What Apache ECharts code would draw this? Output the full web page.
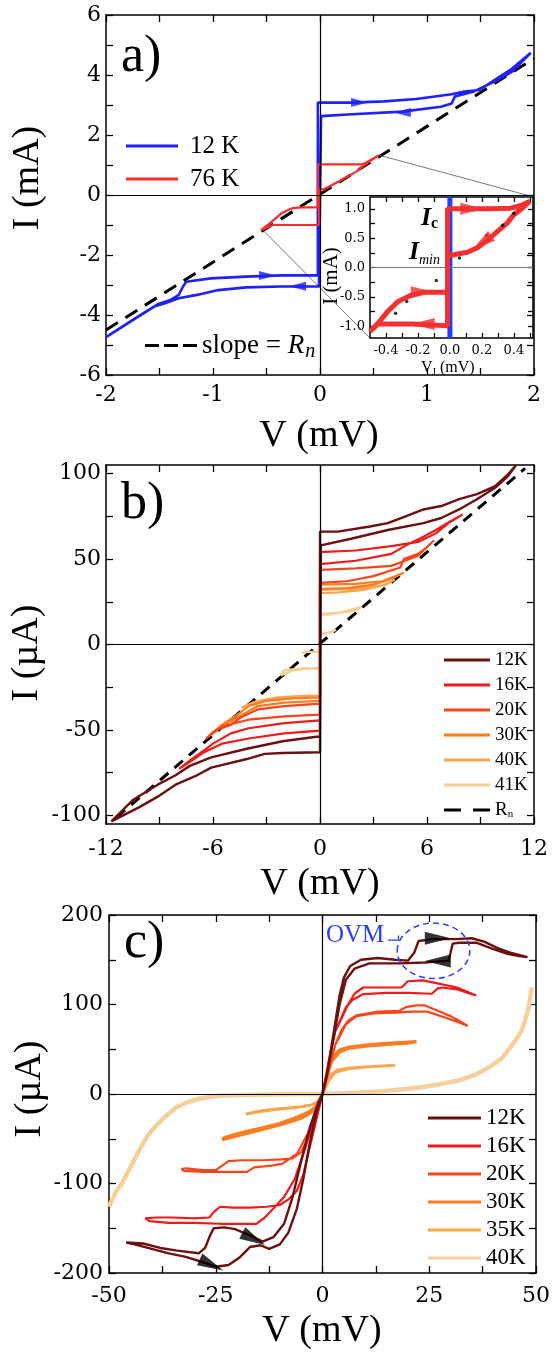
<!DOCTYPE html>
<html><head><meta charset="utf-8">
<script src="https://cdn.jsdelivr.net/npm/echarts@6.0.0/dist/echarts.min.js"></script>
<style>html,body{margin:0;padding:0;background:#fff}#c{width:553px;height:1353px}</style>
</head><body><div id="c"></div>
<script>
// ---------- Panel a (V in mV, I in mA) ----------
const a12K = [[-0.02,-2.67],[-0.02,3.08],[0.3,3.08],[0.6,3.12],[0.9,3.2],[1.23,3.36],[1.35,3.45],[1.49,3.5],[1.63,3.83],[1.79,4.2],[1.97,4.74],
 [1.79,4.1],[1.63,3.78],[1.43,3.44],[1.26,3.28],[1.23,3.05],[1.13,2.94],[0.77,2.78],[0.3,2.69],[0.01,2.63],
 [-0.01,-3.05],[-0.36,-3.05],[-0.69,-3.08],[-0.95,-3.17],[-1.15,-3.33],[-1.32,-3.44],[-1.45,-3.61],[-1.55,-3.72],[-2,-4.74],
 [-1.68,-4.0],[-1.51,-3.63],[-1.4,-3.5],[-1.32,-3.33],[-1.28,-3.05],[-1.25,-2.89],[-1.02,-2.78],[-0.69,-2.72],[-0.36,-2.68],[-0.02,-2.67]];
const a76K = [[-0.02,-0.41],[-0.02,1.02],[0.2,1.02],[0.4,1.02],[0.55,1.33],
 [0.44,1.06],[0.34,0.78],[0.17,0.44],[0.04,0.19],[-0.01,0.19],
 [-0.01,-1.0],[-0.2,-1.0],[-0.44,-1.0],[-0.55,-1.17],
 [-0.45,-0.89],[-0.36,-0.61],[-0.26,-0.44],[-0.16,-0.41],[-0.02,-0.41]];
const aRn = [[-2,-4.5],[2,4.55]];
const aArrows = [[0.37,3.08],[0.77,2.75],[-0.49,-2.68],[-0.21,-3.04]];
const aArrowDir = [0,180,0,180];
const aZoomLinks = [[[0.55,1.33],[1.98,-0.05]],[[-0.54,-1.15],[0.467,-4.77]]];
const aXLabels = [-2,-1,0,1,2], aXTicks = [-2,-1.5,-1,-0.5,0,0.5,1,1.5,2];
const aYLabels = [-6,-4,-2,0,2,4,6], aYTicks = [-6,-5,-4,-3,-2,-1,0,1,2,3,4,5,6];
// inset (V_J in mV, I in mA)
const inBlue = [[0,-1.2],[0,1.2]];
const inRed = [[-0.015,-0.42],[-0.015,1.0],[0.1,1.0],[0.25,1.0],[0.38,1.01],[0.45,1.06],[0.5,1.13],
 [0.45,1.0],[0.4,0.9],[0.36,0.76],[0.3,0.62],[0.24,0.48],[0.175,0.34],[0.11,0.26],[0.03,0.22],[0,0.2],
 [-0.015,0.2],[-0.015,-0.99],[-0.24,-0.96],[-0.45,-0.96],[-0.5,-1.09],
 [-0.45,-0.95],[-0.39,-0.75],[-0.325,-0.58],[-0.24,-0.47],[-0.16,-0.42],[-0.015,-0.42]];
const inDots = [[0.06,0.16],[0.23,0.55],[0.33,0.72],[0.4,0.92],[-0.085,-0.22],[-0.27,-0.58],[-0.34,-0.78]];
const inArrows = [[0.14,1.0],[0.2,0.42],[-0.17,-0.42],[-0.17,-0.96]];
const inArrowDir = [0,216,0,180];
const inXLabels = [-0.4,-0.2,0,0.2,0.4], inXTicks = [-0.4,-0.3,-0.2,-0.1,0,0.1,0.2,0.3,0.4,0.5];
const inYLabels = [-1,-0.5,0,0.5,1], inYTicks = [-1,-0.75,-0.5,-0.25,0,0.25,0.5,0.75,1];

// ---------- Panel b (V in mV, I in uA) ----------
const b12K = [[0,-54],[0,66],[1,66],[2.8,69],[3.8,71],[4.8,75],[5.8,79],[6.8,81],[7.8,85],[8.8,88],[9.8,92.5],[10.5,99],[11,105],
 [10.5,98],[9.8,91.5],[8.8,85],[7.8,79],[6.8,74],[5.8,71],[3.8,67],[1.8,62],[0.05,58],
 [0,-63],[-2.1,-63.5],[-3.1,-64],[-4.1,-67],[-6.1,-72],[-6.9,-76.5],[-8.1,-82],[-9.1,-89],[-10.1,-95],[-11.7,-103.5],
 [-10.5,-91],[-9.1,-82],[-8.1,-76.5],[-7.3,-71],[-6.1,-66],[-4.1,-61],[-2.1,-56.6],[-0.2,-54],[0,-54]];
const b16K = [[0,-44.4],[0,54],[2,55],[4,57.5],[5.5,60],[6.5,65],[7.2,71],[8,76],
 [7.3,72],[6.5,67],[5.8,63],[5,59],[4,53],[2,49],[0,47],
 [0,-50.4],[-2,-52],[-4,-55],[-5.5,-58],[-6.5,-63],[-7.2,-68],[-7.9,-72.8],
 [-7.2,-67],[-6.5,-62],[-6,-58],[-5,-52],[-4,-49],[-2,-46],[0,-44.4]];
const b20K = [[0,-34.6],[0,43.6],[2,44.5],[4,46],[4.5,48],[5.5,52],[6,57],[6.4,61],
 [6,57],[5.5,53],[4.7,50],[4.5,45],[3,40],[1.5,37],[0,36],
 [0,-41],[-2,-42],[-4,-44],[-5.5,-48],[-6.4,-55],
 [-5.8,-50],[-5,-47],[-4.5,-43],[-3.5,-38],[-2,-36],[0,-34.6]];
const b30K = [[0,-31],[0,35],[2,35.5],[3.5,37],[4.7,42],
 [4,38.5],[3,35],[1.5,33],[0,32.5],
 [0,-33],[-2,-34],[-3.5,-36],[-4.5,-42],[-5.5,-48],[-6.2,-53],
 [-5.5,-47],[-4.5,-40],[-4,-36],[-3,-33],[-1.5,-31.5],[0,-31]];
const b40K = [[0,-29.7],[0,32],[2,32.5],[3.5,34.5],[4.2,38],
 [3.7,35],[2.5,32],[1,30.5],[0,30],
 [0,-30],[-2,-31],[-3.5,-33],[-4.4,-37],
 [-3.8,-34],[-2.5,-31],[-1,-30],[0,-29.7]];
const b41K = [[0,-13.5],[0,18],[1,18.5],[2,20],[2.3,22],[1.5,19.5],[0.5,17.5],[0,17.5],
 [0,6],[0.5,7],[0.9,8.6],[0.5,7],[0,6],
 [0,-4.3],[-0.8,-4.3],[-1,-5],[-0.8,-4.3],[0,-4.3],
 [0,-14],[-1,-14],[-2,-15],[-2.2,-18],[-1.5,-15],[0,-13.5]];
const bRn = [[-11.4,-101],[11.5,103]];
const bXLabels = [-12,-6,0,6,12], bXTicks = [-12,-9,-6,-3,0,3,6,9,12];
const bYLabels = [-100,-50,0,50,100], bYTicks = [-100,-75,-50,-25,0,25,50,75,100];

// ---------- Panel c (V in mV, I in uA) ----------
const c12K = [[-46,-166],[-42,-167],[-38,-172],[-34,-175],[-29,-178],[-27.5,-172],[-26.5,-160],[-25.5,-150],[-23,-149],[-20.5,-151],[-17,-158],[-14,-165],[-11.5,-160],[-9,-145],[-7,-115],[-5,-75],[-3,-38],[-1,-10],[0,0],
 [1,20],[2,50],[3,80],[4,110],[5,130],[6.5,143],[9,150],[13,152],[17,150],[20,149],[21.5,158],[22.5,171],[26,173],[31,173],[35,174],[38,170],[41,163],[44,158],[48,153],
 [46,154],[43,157],[40,162],[36,169],[32,169],[30.5,168],[30,158],[29.5,149],[24,147],[18,146],[11,146],[7.5,140],[5.5,128],[4,100],[2.5,60],[1,20],[0,0],
 [-1.5,-22],[-3,-55],[-4.5,-95],[-6,-128],[-8,-155],[-10,-168],[-12.5,-173],[-14.5,-169],[-17,-171],[-19.5,-183],[-22,-191],[-25,-193],[-28,-188],[-32,-182],[-36,-178],[-40,-173],[-44,-168],[-46,-166]];
const c16K = [[0,0],[1,25],[2,50],[3,70],[4.5,85],[6,100],[7.5,112],[9.5,119],[14,119],[18.5,119],[20,126],[23.5,127],[27.5,123],[31.5,119],[36,110],
 [34,113],[31.5,117],[28,119],[27,118],[25.6,112],[20,113],[15,113],[9.5,111.5],[7,105],[5.5,97],[3,70],[1.5,38],[0,0],
 [-1.5,-30],[-3,-60],[-4.5,-90],[-6,-108],[-8,-118],[-10,-124],[-13,-126],[-17,-127],[-21,-127],[-24,-126],[-25.5,-132],[-26.5,-138],[-30,-139],[-35,-138],[-39,-138],[-41.5,-139],
 [-40.5,-142],[-36,-144],[-30,-144],[-24,-145],[-19,-145],[-15.5,-145],[-13.5,-138],[-11.5,-128],[-9,-115],[-6.5,-95],[-4,-60],[-2,-28],[0,0]];
const c20K = [[0,0],[1.5,30],[3,55],[4.5,72],[6,82],[8,88],[13,92],[18,93],[19.5,97],[22,99],[24,99],[26,95],[28,91],[30,87],[32,82],[34,76],
 [32,80],[29,85],[26.5,89],[24.5,92],[21,92],[17,91],[12,90],[8,87],[5.5,78],[3,55],[1.5,28],[0,0],
 [-1.5,-25],[-3,-45],[-5,-65],[-7,-72],[-9.5,-73],[-14,-74],[-19,-74],[-22,-75],[-23.5,-80],[-25,-85],[-28,-85],[-32,-83],[-33,-84],[-32.5,-86],[-28,-87],[-22.7,-87],[-17.7,-87],[-16,-82],[-12,-80],[-9.5,-78],[-6,-67],[-3,-40],[-1.5,-20],[0,0]];
const c30K = [[0,0],[1,20],[2.5,42],[4,49],[6,52],[10,54.5],[15,56.5],[20,58],[22,58.5],
 [20,57],[15,55.5],[10,53.5],[6,51],[4,47],[2,36],[0,0],
 [-1.5,-14],[-3,-20],[-6,-26],[-10,-33],[-14,-38],[-18,-42],[-21,-46],[-23,-49],[-23.5,-51],
 [-21,-48],[-17,-43],[-13,-38],[-9,-33],[-5,-27],[-2.5,-20],[-1,-10],[0,0]];
const c35K = [[0,0],[1,12],[2,22],[3.5,27],[6,29],[10,30.5],[14,31.5],[17,32],
 [14,31],[10,30],[6,28],[3,24],[1.5,15],[0,0],
 [-1,-8],[-2.5,-12],[-5,-14],[-8,-15.5],[-12,-17],[-15,-19],[-18,-22.5],
 [-15,-20],[-11,-17.5],[-7,-15.5],[-3,-13],[-1,-9],[0,0]];
const c40K = [[-50,-126],[-48.5,-110],[-47,-100],[-45,-82],[-42.6,-60],[-41,-47],[-39.3,-37],[-37,-26],[-34.3,-15],[-32,-10],[-29.3,-5.6],[-26,-3],[-24,-2],[-18,-1],[-10,-0.3],[0,0],[8,1.5],[14,3],[19.4,5.6],[24,8],[27.6,11],[31.8,15],[36,22],[38,27],[40,33],[42,40],[44,52],[45.5,62],[46.6,70],[47.5,83],[48.3,97],[49,119]];
const cArrows = [[27,174],[27,148.7],[-16.1,-162],[-26,-191]];
const cArrowDir = [0,180,-28,-25];
const ovmEllipse = [[26,160,8.5,31]];
const ovmBracket = [[15.3,172],[17.8,172],[17.8,177]];
const cXLabels = [-50,-25,0,25,50], cXTicks = [-50,-37.5,-25,-12.5,0,12.5,25,37.5,50];
const cYLabels = [-200,-100,0,100,200], cYTicks = [-200,-150,-100,-50,0,50,100,150,200];

// ---------- chart ----------
const F = 'Liberation Serif';
const FT = 'DejaVu Serif';
const chart = echarts.init(document.getElementById('c'), null, {renderer:'canvas'});
const grids = [
  {left:106, top:15, width:428, height:360},
  {left:370, top:197, width:163, height:141, show:true, backgroundColor:'#fff', borderWidth:0},
  {left:106, top:465, width:428, height:359},
  {left:109, top:915, width:428, height:358}
];
const xAxes = [], yAxes = [];
function axes(gi, o) {
  const line = {show:true, onZero:false, lineStyle:{color:'#000', width:1.5}};
  const tick = (vals) => ({show:true, inside:true, length:o.tl, customValues:vals, lineStyle:{color:'#000', width:1.3}});
  xAxes.push({type:'value', gridIndex:gi, min:o.xmin, max:o.xmax, position:'bottom', axisLine:line, axisTick:tick(o.xt),
    splitLine:{show:false},
    axisLabel:{show:true, customValues:o.xl, fontFamily:FT, fontSize:o.fs, color:'#000', margin:o.xm, formatter:o.xf}});
  xAxes.push({type:'value', gridIndex:gi, min:o.xmin, max:o.xmax, position:'top', axisLine:line, axisTick:tick(o.xt),
    splitLine:{show:false}, axisLabel:{show:false}});
  yAxes.push({type:'value', gridIndex:gi, min:o.ymin, max:o.ymax, position:'left', axisLine:line, axisTick:tick(o.yt),
    splitLine:{show:false},
    axisLabel:{show:true, customValues:o.yl, fontFamily:FT, fontSize:o.fs, color:'#000', margin:o.ym, formatter:o.yf}});
  yAxes.push({type:'value', gridIndex:gi, min:o.ymin, max:o.ymax, position:'right', axisLine:line, axisTick:tick(o.yt),
    splitLine:{show:false}, axisLabel:{show:false}});
}
const f1 = v => (+v).toFixed(1);
axes(0, {xmin:-2, xmax:2, xl:aXLabels, xt:aXTicks, ymin:-6, ymax:6, yl:aYLabels, yt:aYTicks, fs:22, xm:9, ym:5, tl:7});
axes(1, {xmin:-0.5, xmax:0.52, xl:inXLabels, xt:inXTicks, ymin:-1.2, ymax:1.2, yl:inYLabels, yt:inYTicks, fs:13, xm:6, ym:5, tl:5, xf:f1, yf:f1});
axes(2, {xmin:-12, xmax:12, xl:bXLabels, xt:bXTicks, ymin:-105, ymax:105, yl:bYLabels, yt:bYTicks, fs:22, xm:14, ym:5, tl:7});
axes(3, {xmin:-50, xmax:50, xl:cXLabels, xt:cXTicks, ymin:-200, ymax:200, yl:cYLabels, yt:cYTicks, fs:22, xm:12, ym:6, tl:7});

const zeroLines = (color, w, both) => ({silent:true, symbol:'none', label:{show:false}, animation:false,
  lineStyle:{color:color, width:w, type:'solid'}, data: both ? [{xAxis:0},{yAxis:0}] : [{yAxis:0}]});

function ln(name, gi, data, color, width, extra) {
  return Object.assign({name:name, type:'line', xAxisIndex:gi*2, yAxisIndex:gi*2, data:data, symbol:'none', showSymbol:false,
    lineStyle:{color:color, width:width}, itemStyle:{color:color}, z:3, animation:false, silent:true}, extra||{});
}
const ARROW = 'path://M0,0L24,6L0,12Z';
function arrows(gi, pts, dirs, color, size) {
  return {type:'scatter', xAxisIndex:gi*2, yAxisIndex:gi*2, symbol:ARROW, symbolSize:size, z:6, silent:true, animation:false,
    itemStyle:{color:color}, data: pts.map((p,i)=>({value:p, symbolRotate:dirs[i]}))};
}

const colB = {'12K':'#6b1111','16K':'#ee1b1b','20K':'#f7461b','30K':'#fb7d1f','40K':'#fca552','41K':'#f8cd93'};
const colC = {'12K':'#6b1111','16K':'#ee1b1b','20K':'#f7461b','30K':'#fb7d1f','35K':'#fba54e','40K':'#f5d09c'};

const series = [
  // panel a
  ln('zeroA', 0, [], '#000', 1, {markLine: zeroLines('#000', 1.2, true)}),
  ln('aRn', 0, aRn, '#000', 3, {lineStyle:{color:'#000', width:3, type:[14,9]}}),
  ln('aLink1', 0, aZoomLinks[0], '#555', 0.8),
  ln('aLink2', 0, aZoomLinks[1], '#555', 0.8),
  ln('a12', 0, a12K, '#1f1fff', 2.6),
  ln('a76', 0, a76K, '#ff2a2a', 2.2),
  arrows(0, aArrows, aArrowDir, '#1f1fff', [17,9]),
  // inset
  ln('zeroIn', 1, [], '#777', 1, {markLine: zeroLines('#777', 1, false), z:4}),
  ln('inBlue', 1, inBlue, '#1f3cff', 5, {z:4}),
  ln('inRed', 1, inRed, '#f43030', 5, {z:5}),
  {type:'scatter', xAxisIndex:2, yAxisIndex:2, data:inDots, symbolSize:3.5, itemStyle:{color:'#000'}, z:6, silent:true, animation:false},
  arrows(1, inArrows, inArrowDir, '#f43030', [24,12]),
  // panel b
  ln('zeroB', 2, [], '#000', 1, {markLine: zeroLines('#000', 1.2, true)}),
  ln('bRn', 2, bRn, '#000', 3, {lineStyle:{color:'#000', width:3, type:[11,8]}, z:2}),
  ln('b41K', 2, b41K, colB['41K'], 2.4),
  ln('b40K', 2, b40K, colB['40K'], 2.2),
  ln('b30K', 2, b30K, colB['30K'], 2.2),
  ln('b20K', 2, b20K, colB['20K'], 2.2),
  ln('b16K', 2, b16K, colB['16K'], 2.2),
  ln('b12K', 2, b12K, colB['12K'], 2.4),
  // panel c
  ln('zeroC', 3, [], '#000', 1, {markLine: zeroLines('#000', 1.2, true)}),
  ln('c40K', 3, c40K, colC['40K'], 4.5),
  ln('c35K', 3, c35K, colC['35K'], 2.6),
  ln('c30K', 3, c30K, colC['30K'], 3.4),
  ln('c20K', 3, c20K, colC['20K'], 2.2),
  ln('c16K', 3, c16K, colC['16K'], 2.2),
  ln('c12K', 3, c12K, colC['12K'], 2.4),
  arrows(3, cArrows, cArrowDir, '#000', [26,13]),
  ln('ovmBr', 3, ovmBracket, '#2b3ff0', 1.3),
  {type:'custom', xAxisIndex:6, yAxisIndex:6, data:ovmEllipse, z:7, silent:true, animation:false, clip:false,
   renderItem:(p, api) => {
     const c = api.coord([api.value(0), api.value(1)]);
     const e = api.coord([api.value(0)+api.value(2), api.value(1)+api.value(3)]);
     return {type:'ellipse', shape:{cx:c[0], cy:c[1], rx:Math.abs(e[0]-c[0]), ry:Math.abs(e[1]-c[1])},
       style:{fill:'none', stroke:'#2b3ff0', lineWidth:1.5, lineDash:[6,4]}};
   }}
];

const DASH_A = 'path://M0,0h14v3h-14zM19,0h14v3h-14zM38,0h14v3h-14z';
const DASH_B = 'path://M0,0h17v3h-17zM29,0h17v3h-17z';
const legendBase = {orient:'vertical', selectedMode:false, icon:'rect'};
const legends = [
  Object.assign({}, legendBase, {data:['a12','a76'], left:121, top:127, itemWidth:52, itemHeight:3, itemGap:5,
    formatter: n => n === 'a12' ? '12 K' : '76 K',
    textStyle:{fontFamily:F, fontSize:25, color:'#000', lineHeight:28, padding:[0,0,0,7]}}),
  Object.assign({}, legendBase, {data:[{name:'aRn', icon:DASH_A}], left:140, top:327, itemWidth:52, itemHeight:3,
    formatter: () => '{t|slope = }{r|R}{s|n}',
    textStyle:{fontFamily:F, fontSize:27, color:'#000',
      rich:{t:{fontFamily:F, fontSize:27, color:'#000'}, r:{fontFamily:F, fontSize:27, fontStyle:'italic', color:'#000'},
            s:{fontFamily:F, fontSize:20, fontStyle:'italic', color:'#000', padding:[12,0,0,1], verticalAlign:'bottom'}}}}),
  Object.assign({}, legendBase, {data:['b12K','b16K','b20K','b30K','b40K','b41K',{name:'bRn', icon:DASH_B}], left:439, top:645, itemWidth:46, itemHeight:3, itemGap:5,
    formatter: n => n === 'bRn' ? '{r|R}{s|n}' : n.slice(1),
    textStyle:{fontFamily:F, fontSize:19, color:'#000', lineHeight:20,
      rich:{r:{fontFamily:F, fontSize:19, color:'#000'}, s:{fontFamily:F, fontSize:11, color:'#000', padding:[9,0,0,0], verticalAlign:'bottom'}}}}),
  Object.assign({}, legendBase, {data:['c12K','c16K','c20K','c30K','c35K','c40K'], left:423, top:1101, itemWidth:53, itemHeight:3, itemGap:4,
    formatter: n => n.slice(1),
    textStyle:{fontFamily:F, fontSize:23, color:'#000', lineHeight:24}})
];

const txt = (t, x, y, font, extra) => Object.assign({type:'text', x:x, y:y, silent:true, z:20,
  style:Object.assign({text:t, font:font, fill:'#000', textAlign:'left', textVerticalAlign:'middle'}, (extra||{}).style||{})},
  extra ? {rotation: extra.rotation||0} : {});
const NAME = '38px "Liberation Serif"';
const graphic = [
  txt('a)', 121, 57, '52px "Liberation Serif"'),
  txt('b)', 121, 504, '52px "Liberation Serif"'),
  txt('c)', 124, 943, '52px "Liberation Serif"'),
  // axis names
  txt('V (mV)', 319, 436, NAME, {style:{textAlign:'center'}}),
  txt('V (mV)', 320, 884, NAME, {style:{textAlign:'center'}}),
  txt('V (mV)', 322, 1331, NAME, {style:{textAlign:'center'}}),
  txt('I (mA)', 28, 178, NAME, {rotation:Math.PI/2, style:{textAlign:'center'}}),
  txt('I (\u00b5A)', 27, 653, NAME, {rotation:Math.PI/2, style:{textAlign:'center'}}),
  txt('I (\u00b5A)', 30, 1089, NAME, {rotation:Math.PI/2, style:{textAlign:'center'}}),
  // inset annotations
  txt('I', 421, 218, 'italic bold 26px "Liberation Serif"'),
  txt('c', 431, 224, 'bold 16px "Liberation Serif"'),
  txt('I', 409, 252, 'italic bold 26px "Liberation Serif"'),
  txt('min', 419, 260, 'italic 14px "Liberation Serif"'),
  txt('I (mA)', 331, 276, '21px "Liberation Serif"', {rotation:Math.PI/2, style:{textAlign:'center'}}),
  txt('V', 421, 368, '16px "Liberation Serif"'),
  txt('J', 432, 372, '10px "Liberation Serif"'),
  txt(' (mV)', 436, 368, '16px "Liberation Serif"'),
  txt('OVM', 326, 935, '25px "Liberation Serif"', {style:{fill:'#2b3ff0'}})
];

chart.setOption({
  animation:false,
  backgroundColor:'#fff',
  grid:grids, xAxis:xAxes, yAxis:yAxes, series:series, legend:legends, graphic:graphic
});
</script></body></html>
